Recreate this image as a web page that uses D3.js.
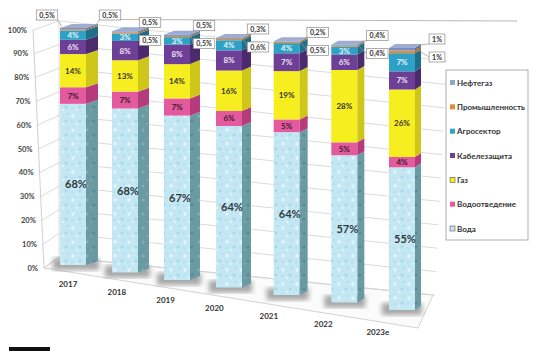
<!DOCTYPE html>
<html><head><meta charset="utf-8">
<script src="https://cdn.jsdelivr.net/npm/d3@7"></script>
<style>
body{margin:0;background:#fff}
svg{display:block;font-family:Lato,"Open Sans",sans-serif;font-weight:bold}
</style></head><body>
<svg width="538" height="351"></svg>
<script>
// ===== DATA =====
const years = ["2017","2018","2019","2020","2021","2022","2023e"]
const voda = [68,68,67,64,64,57,55]
const vodootvedenie = [7,7,7,6,5,5,4]
const gaz = [14,13,14,16,19,28,26]
const kabel = [6,8,8,8,7,6,7]
const agro = [4,3,3,4,4,3,7]
const prom = [0.5,0.5,0.5,0.6,0.5,0.4,1]
const neftegaz = [0.5,0.5,0.5,0.3,0.2,0.4,1]
const seriesNames = ["Вода","Водоотведение","Газ","Кабелезащита","Агросектор","Промышленность","Нефтегаз"]
const yTicks = [0,10,20,30,40,50,60,70,80,90,100]

// ===== SETUP =====
const keys = ["voda","vodo","gaz","kabel","agro","prom","neft"]
const front = {voda:"url(#bub)",vodo:"#e45a9f",gaz:"#f7ee1f",kabel:"#6e3f97",agro:"#2ea2c6",prom:"#e38b3b",neft:"#7790c0"}
const side = {voda:"url(#bubS)",vodo:"#b63b7c",gaz:"#cfc61a",kabel:"#4b2a6d",agro:"#1d6f8a",prom:"#b56a28",neft:"#56709e"}
const legendCol = {voda:"#c4e7f4",vodo:"#e45a9f",gaz:"#f7ee1f",kabel:"#6e3f97",agro:"#2ea2c6",prom:"#e38b3b",neft:"#8fa6cf"}
const labelCol = {voda:"#2e3b40",vodo:"#3a1a2a",gaz:"#333",kabel:"#eee4f4",agro:"#e8f5fa"}

const rows = years.map((y,i)=>({year:y,voda:voda[i],vodo:vodootvedenie[i],gaz:gaz[i],kabel:kabel[i],agro:agro[i],prom:prom[i],neft:neftegaz[i]}))
const stack = d3.stack().keys(keys).offset(d3.stackOffsetExpand)(rows)

const svg = d3.select("svg")
const defs = svg.append("defs")

function bubbles(id,base,spots){
  const p = defs.append("pattern").attr("id",id).attr("width",14).attr("height",14).attr("patternUnits","userSpaceOnUse")
  p.append("rect").attr("width",14).attr("height",14).attr("fill",base)
  spots.forEach(s=>p.append("circle").attr("cx",s[0]).attr("cy",s[1]).attr("r",s[2]).attr("fill",s[3]))
}
bubbles("bub","#c4e7f4",[[3,4,1.7,"#e4f5fb"],[10,9,1.4,"#a8d5e8"],[7,12,1,"#eaf8fd"],[12,2,1.1,"#b2dbec"],[2,10,0.9,"#acd8ea"]])
bubbles("bubS","#6a9ba3",[[3,4,1.5,"#82afb6"],[10,9,1.3,"#578890"],[7,12,1,"#80acb3"]])

defs.append("filter").attr("id","blur").append("feGaussianBlur").attr("stdDeviation",2.5)

// ===== SCALES =====
const xc = d3.scaleLinear().domain([0,3,6]).range([73,229,402])
const yBase = d3.scaleLinear().domain([0,6]).range([265,310])
const yTop = d3.scaleLinear().domain([0,6]).range([28,48])
const sideW = d3.scaleLinear().domain([0,6]).range([12,6])
const bw = 26, rise = 4

const wallL = d3.scaleLinear().domain([0,100]).range([257,21])
const wallRy = d3.scaleLinear().domain([0,100]).range([295,61])
const wallRx = d3.scaleLinear().domain([0,100]).range([435,447])
const edgeX = d3.scaleLinear().domain([0,100]).range([44,33])
const edgeY = d3.scaleLinear().domain([0,100]).range([268,30])

// ===== WALLS / FLOOR =====
svg.append("line").attr("x1",118).attr("y1",19.5).attr("x2",517).attr("y2",21)
.attr("stroke","#b8b8b8").attr("stroke-width",1)

svg.append("polygon")
.attr("points",[[44,268],[418,328],[433,295],[59,257]].join(" "))
.attr("fill","#fbfbfb").attr("stroke","#c8c8c8").attr("stroke-width",0.8)

const grid = svg.append("g").attr("stroke","#d2d2d2").attr("stroke-width",0.8).attr("fill","none")
yTicks.forEach(t=>{
  grid.append("polyline").attr("points",[[edgeX(t),edgeY(t)],[59,wallL(t)],[wallRx(t),wallRy(t)]].join(" "))
})
grid.append("line").attr("x1",edgeX(0)).attr("y1",edgeY(0)).attr("x2",edgeX(100)).attr("y2",edgeY(100)).attr("stroke","#c4c4c4")
grid.append("line").attr("x1",59).attr("y1",wallL(0)).attr("x2",59).attr("y2",wallL(100))

svg.append("g").selectAll("text").data(yTicks).join("text")
.attr("x",t=>edgeX(t)-6).attr("y",t=>edgeY(t)+2.5)
.attr("text-anchor","end").attr("font-size",7.5).attr("fill","#444")
.text(t=>t+"%")

// ===== BARS =====
const bars = svg.append("g")
years.forEach((yr,i)=>{
  const xl = xc(i)-bw/2, xr = xc(i)+bw/2, s = sideW(i)
  const y = d3.scaleLinear().domain([0,1]).range([yBase(i),yTop(i)])
  const g = bars.append("g")

  // shadow
  g.append("rect").attr("x",xl-7).attr("y",yBase(i)-7).attr("width",bw+s+8).attr("height",12)
  .attr("fill","#8a8a8a").attr("opacity",0.75).attr("filter","url(#blur)")

  stack.forEach(ser=>{
    const d = ser[i]
    const y0 = y(d[0]), y1 = y(d[1])
    g.append("rect").attr("x",xl).attr("y",y1).attr("width",bw).attr("height",Math.max(0,y0-y1))
    .attr("fill",front[ser.key])
    g.append("polygon").attr("points",[[xr,y1],[xr+s,y1-rise],[xr+s,y0-rise],[xr,y0]].join(" "))
    .attr("fill",side[ser.key])
  })
  // top face
  const yt = y(1)
  g.append("polygon").attr("points",[[xl,yt],[xr,yt],[xr+s,yt-rise],[xl+s,yt-rise]].join(" "))
  .attr("fill","#9eacd0")

  // segment labels
  stack.filter(ser=>labelCol[ser.key]).forEach(ser=>{
    const d = ser[i]
    const big = ser.key==="voda"
    g.append("text").attr("x",xc(i)+(big?3:0)).attr("y",(y(d[0])+y(d[1]))/2+(big?4:3))
    .attr("text-anchor","middle").attr("font-size",big?11:8).attr("fill",labelCol[ser.key])
    .text(d.data[ser.key]+"%")
  })

  // year label
  g.append("text").attr("x",xc(i)-5-3.2*i).attr("y",yBase(i)+22+0.5*i)
  .attr("text-anchor","middle").attr("font-size",8).attr("fill","#333").text(yr)
})

// ===== CALLOUTS =====
const fmt = v=>String(v).replace(".",",")+"%"
const calls = svg.append("g")
function callout(cx,cy,txt,px,py){
  const g = calls.append("g")
  const t = g.append("text").attr("x",cx).attr("y",cy+2.5).attr("text-anchor","middle")
  .attr("font-size",7).attr("fill","#333").text(txt)
  const w = t.node().getComputedTextLength()+6
  const bx = cx-w/2
  const ex = px<bx ? bx : (px>bx+w ? bx+w : px)
  const ey = py>cy+5 ? cy+5 : cy
  g.insert("line","text").attr("x1",ex).attr("y1",ey).attr("x2",px).attr("y2",py)
  .attr("stroke","#999").attr("stroke-width",0.7)
  g.insert("rect","text").attr("x",bx).attr("y",cy-5).attr("width",w).attr("height",10)
  .attr("fill","#fff").attr("stroke","#8a8a8a").attr("stroke-width",0.7)
}
years.forEach((yr,i)=>{
  const xl = xc(i)-bw/2, xr = xc(i)+bw/2, s = sideW(i), yt = yTop(i)
  if(i===0){
    callout(xl-13,yt-13,fmt(neftegaz[i]),xl+2,yt-1)
    callout(xr+s+12,yt-13,fmt(prom[i]),xr+s-3,yt-2)
  }else{
    const cx = xr+10+2*i
    callout(cx,yt-9,fmt(neftegaz[i]),xr+s/2,yt-rise/2-1)
    callout(cx,yt+9,fmt(prom[i]),xr+1,yt+1)
  }
})

// ===== LEGEND =====
const legend = svg.append("g")
legend.append("rect").attr("x",446).attr("y",70).attr("width",82).attr("height",170)
.attr("fill","#fff").attr("stroke","#9a9a9a").attr("stroke-width",0.8)
const order = keys.slice().reverse()
const names = seriesNames.slice().reverse()
const ly = d3.scalePoint().domain(order).range([83,229])
order.forEach((k,j)=>{
  legend.append("rect").attr("x",450).attr("y",ly(k)-3).attr("width",5).attr("height",5)
  .attr("fill",legendCol[k]).attr("stroke",k==="gaz"||k==="voda"?"#555":"none").attr("stroke-width",0.6)
  legend.append("text").attr("x",457).attr("y",ly(k)+2.5).attr("font-size",8).attr("fill","#333").text(names[j])
})

// black strip at bottom
svg.append("rect").attr("x",9).attr("y",347).attr("width",41).attr("height",4).attr("fill","#111")
</script>
</body></html>
